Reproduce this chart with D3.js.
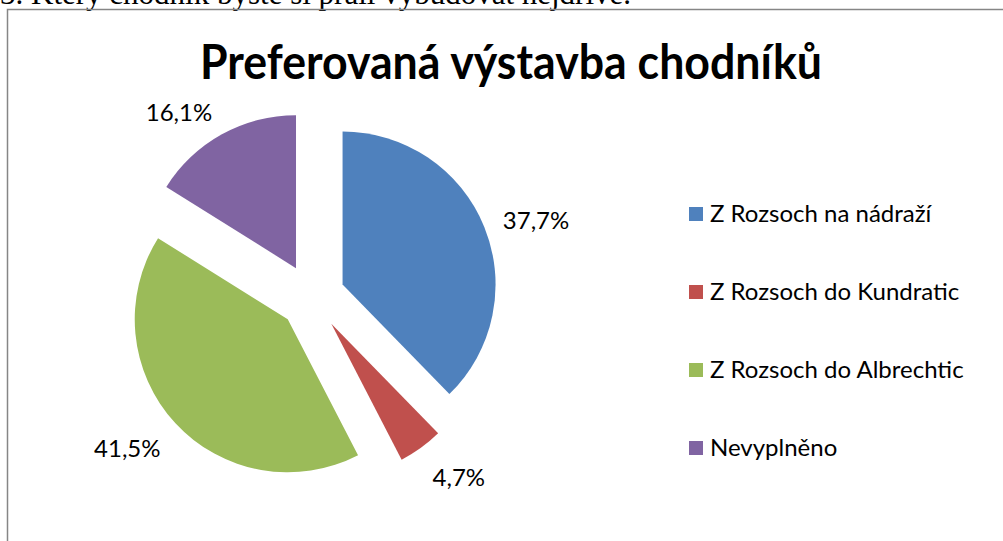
<!DOCTYPE html>
<html>
<head>
<meta charset="utf-8">
<script src="https://cdn.jsdelivr.net/npm/d3@7"></script>
<style>
  body { margin: 0; background: #fff; }
  svg { display: block; }
</style>
</head>
<body>
<svg id="chart" width="1003" height="541"></svg>
<script>
// data
var categories = ["Z Rozsoch na nádraží", "Z Rozsoch do Kundratic", "Z Rozsoch do Albrechtic", "Nevyplněno"];
var values = [37.7, 4.7, 41.5, 16.1];
var colors = ["#4F81BD", "#C0504D", "#9BBB59", "#8064A2"];
var title = "Preferovaná výstavba chodníků";
var question = "3. Který chodník byste si přáli vybudovat nejdříve.";

var svg = d3.select("#chart");
var W = 1003, H = 541;

var locale = d3.formatLocale({decimal: ",", thousands: " ", grouping: [3], currency: ["", " Kč"]});
var fmt = locale.format(".1f");

// question text of the page above, cut off by the top edge like in the original
svg.append("text")
    .attr("x", 0).attr("y", 4)
    .style("font-family", "'Liberation Serif', 'DejaVu Serif', serif")
    .style("font-size", "31px")
    .attr("fill", "#000")
    .text(question);

// chart frame
svg.append("rect")
    .attr("x", 7.5).attr("y", 9.5)
    .attr("width", W + 10).attr("height", H + 10)
    .attr("fill", "none")
    .attr("stroke", "#868686")
    .attr("stroke-width", 1.5);

// title
var t = svg.append("text")
    .attr("x", 511).attr("y", 79)
    .attr("text-anchor", "middle")
    .style("font-family", "Lato, 'Open Sans', sans-serif")
    .style("font-weight", "bold")
    .style("font-size", "47px")
    .attr("fill", "#000")
    .text(title);
var tl = t.node().getComputedTextLength();
if (Math.abs(tl - 622) > 4) t.attr("textLength", 622).attr("lengthAdjust", "spacingAndGlyphs");

// pie
var cx = 312, cy = 297, R = 153, explode = 33;
var pie = d3.pie().sort(null).value(function(d){ return d; });
var arcs = pie(values);
var arc = d3.arc().innerRadius(0).outerRadius(R);

var g = svg.append("g").attr("transform", "translate(" + cx + "," + cy + ")");

arcs.forEach(function(a, i) {
    var mid = (a.startAngle + a.endAngle) / 2;
    var dx = Math.sin(mid), dy = -Math.cos(mid);
    var sg = g.append("g")
        .attr("transform", "translate(" + (dx * explode) + "," + (dy * explode) + ")");
    sg.append("path")
        .attr("d", arc(a))
        .attr("fill", colors[i]);

    // data label outside the slice
    var lr = R + 20;
    sg.append("text")
        .attr("x", dx * lr)
        .attr("y", dy * lr + dy * 10 + 5)
        .attr("dy", "0.35em")
        .attr("text-anchor", dx >= 0 ? "start" : "end")
        .style("font-family", "Lato, 'Open Sans', sans-serif")
        .style("font-size", "24px")
        .attr("fill", "#000")
        .text(fmt(values[i]) + "%");
});

// legend
var ly = d3.scalePoint().domain(categories).range([214, 448]);
var leg = svg.append("g");
categories.forEach(function(c, i) {
    leg.append("rect")
        .attr("x", 689).attr("y", ly(c) - 7)
        .attr("width", 14).attr("height", 14)
        .attr("fill", colors[i]);
    leg.append("text")
        .attr("x", 710).attr("y", ly(c))
        .attr("dy", "0.35em")
        .style("font-family", "Lato, 'Open Sans', sans-serif")
        .style("font-size", "24px")
        .attr("fill", "#000")
        .text(c);
});
</script>
</body>
</html>
